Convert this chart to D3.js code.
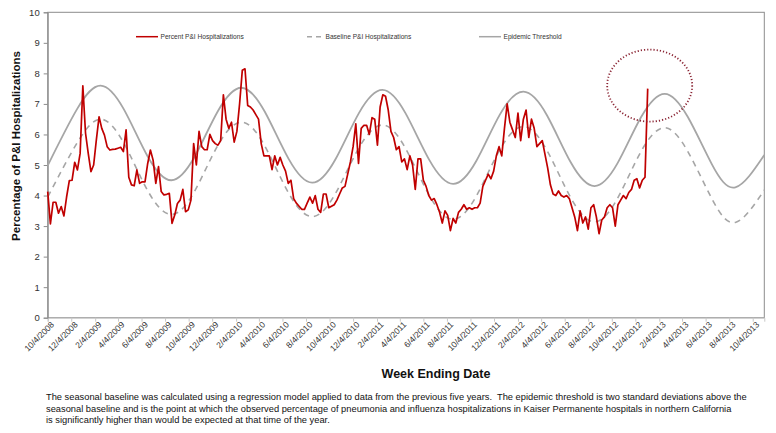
<!DOCTYPE html>
<html>
<head>
<meta charset="utf-8">
<script src="https://cdn.jsdelivr.net/npm/d3@7"></script>
<style>
  body { margin: 0; background: #fff; }
  svg { font-family: Arial, "Liberation Sans", sans-serif; }
</style>
</head>
<body>
<svg id="chart" width="776" height="433"></svg>
<script>
// weekly percent of P&I hospitalizations, weeks ending 10/4/2008 .. 1/5/2013
const firstWeek = "10/4/2008";
const percentPI = [
  4.13, 3.07, 3.78, 3.78, 3.42, 3.64, 3.33, 3.96, 4.49, 4.5,
  5.09, 4.84, 5.38, 7.59, 6.04, 5.38, 4.78, 5.0, 5.82, 6.58,
  6.2, 5.98, 5.6, 5.49, 5.51, 5.52, 5.55, 5.58, 5.44, 6.15,
  4.6, 4.35, 4.32, 4.84, 4.4, 4.45, 4.45, 5.05, 5.49, 5.16,
  4.4, 4.95, 4.13, 4.02, 4.04, 4.07, 3.09, 3.36, 3.74, 3.85,
  4.2, 3.47, 3.53, 3.85, 5.7, 5.0, 6.1, 5.6, 5.5, 5.5,
  6.0, 5.8, 5.7, 5.65, 5.8, 7.3, 6.5, 6.2, 6.4, 5.75,
  6.1, 7.0, 8.1, 8.15, 6.95, 6.9, 6.8, 6.65, 6.5, 5.7,
  5.3, 5.3, 5.3, 4.85, 5.3, 5.0, 5.25, 5.0, 4.8, 4.4,
  4.5, 3.9, 3.75, 3.65, 3.55, 3.55, 3.75, 3.95, 3.75, 4.0,
  3.55, 3.45, 4.05, 4.05, 3.6, 3.65, 3.7, 3.85, 4.05, 4.25,
  4.3, 4.7, 5.1, 5.6, 6.35, 5.05, 6.2, 6.3, 6.3, 6.0,
  6.55, 6.5, 5.65, 6.9,
  7.3, 7.25, 6.8, 6.1, 5.9, 5.5, 5.6, 5.1, 5.2, 4.85,
  5.3, 5.0, 4.2, 5.2, 5.2, 4.5, 4.3, 4.0, 3.85, 3.9,
  3.7, 3.45, 3.1, 3.5, 3.35, 2.85, 3.25, 3.1, 3.45, 3.55,
  3.7, 3.55, 3.6, 3.55, 3.6, 3.6, 3.75, 4.3, 4.5, 4.7,
  4.55, 4.8, 5.3, 5.6, 5.3, 6.2, 7.0, 6.4, 6.15, 5.9,
  6.7, 5.8, 6.5, 6.8, 5.9, 6.5, 6.2, 5.6, 5.7, 5.8,
  5.35, 4.9, 4.35, 4.05, 4.0, 4.15, 4.0, 3.95, 4.0, 3.9,
  3.6, 3.3, 2.85, 3.5, 3.1, 3.3, 2.9, 3.6, 3.7, 3.3,
  2.75, 3.2, 3.3, 3.6, 3.7, 3.6, 3.0, 3.7, 3.85, 4.0,
  3.9, 4.1, 4.2, 4.5, 4.55, 4.25, 4.5, 4.6, 7.5
];

// seasonal curves, read at peaks, troughs and between
const curveDates = [
  "10/4/2008", "12/19/2008", "2/18/2009", "4/19/2009", "6/20/2009", "8/20/2009",
  "10/19/2009", "12/19/2009", "2/18/2010", "4/19/2010", "6/20/2010", "8/20/2010",
  "10/19/2010", "12/19/2010", "2/18/2011", "4/19/2011", "6/20/2011", "8/20/2011",
  "10/19/2011", "12/19/2011", "2/18/2012", "4/19/2012", "6/20/2012", "8/20/2012",
  "10/19/2012", "12/19/2012", "2/18/2013", "4/19/2013", "6/20/2013", "8/20/2013",
  "11/3/2013"
];
const baseline = [
  3.95, 5.72, 6.5, 5.72, 4.16, 3.38,
  4.13, 5.65, 6.4, 5.63, 4.08, 3.31,
  4.06, 5.56, 6.31, 5.54, 3.99, 3.22,
  3.98, 5.5, 6.26, 5.48, 3.92, 3.14,
  3.91, 5.45, 6.22, 5.44, 3.9, 3.12,
  4.18
];
const threshold = [
  4.98, 6.83, 7.6, 6.83, 5.28, 4.5,
  5.26, 6.77, 7.53, 6.75, 5.2, 4.42,
  5.18, 6.7, 7.46, 6.69, 5.15, 4.38,
  5.13, 6.65, 7.4, 6.63, 5.08, 4.31,
  5.06, 6.57, 7.33, 6.57, 5.03, 4.27,
  5.33
];

const tickLabels = [
  "10/4/2008", "12/4/2008", "2/4/2009", "4/4/2009", "6/4/2009", "8/4/2009",
  "10/4/2009", "12/4/2009", "2/4/2010", "4/4/2010", "6/4/2010", "8/4/2010",
  "10/4/2010", "12/4/2010", "2/4/2011", "4/4/2011", "6/4/2011", "8/4/2011",
  "10/4/2011", "12/4/2011", "2/4/2012", "4/4/2012", "6/4/2012", "8/4/2012",
  "10/4/2012", "12/4/2012", "2/4/2013", "4/4/2013", "6/4/2013", "8/4/2013",
  "10/4/2013"
];
const yTicks = [0, 1, 2, 3, 4, 5, 6, 7, 8, 9, 10];

const parse = d3.timeParse("%m/%d/%Y");
const fmt = d3.timeFormat("%-m/%-d/%Y");

const svg = d3.select("#chart");
const pLeft = 47.7, pRight = 764.3, pTop = 12.3, pBottom = 317.7;

const x = d3.scaleTime()
  .domain([parse("10/4/2008"), parse("11/3/2013")])
  .range([pLeft, pRight]);
const y = d3.scaleLinear().domain([0, 10]).range([pBottom, pTop]);

// plot frame
svg.append("rect")
  .attr("x", pLeft).attr("y", pTop)
  .attr("width", pRight - pLeft).attr("height", pBottom - pTop)
  .attr("fill", "none").attr("stroke", "#8c8c8c").attr("stroke-width", 1);

// x axis
const xAxis = svg.append("g")
  .attr("transform", `translate(0,${pBottom})`)
  .call(d3.axisBottom(x).tickValues(tickLabels.map(parse)).tickFormat(fmt).tickSizeOuter(0).tickSize(4));
xAxis.select(".domain").attr("stroke", "#c8c8c8");
xAxis.selectAll(".tick line").attr("stroke", "#c8c8c8");
xAxis.selectAll(".tick text")
  .attr("font-size", 8.5)
  .attr("fill", "#333")
  .attr("text-anchor", "end")
  .attr("transform", "translate(3,4) rotate(-45)")
  .attr("dy", "0.35em")
  .attr("y", 2).attr("x", 0);

// y axis
const yAxis = svg.append("g")
  .attr("transform", `translate(${pLeft},0)`)
  .call(d3.axisLeft(y).tickValues(yTicks).tickSizeOuter(0).tickSize(4).tickPadding(4));
yAxis.select(".domain").attr("stroke", "#8c8c8c");
yAxis.selectAll(".tick line").attr("stroke", "#8c8c8c");
yAxis.selectAll(".tick text").attr("font-size", 9.5).attr("fill", "#333");

// series
const weeks = percentPI.map((v, i) => ({ date: d3.timeDay.offset(parse(firstWeek), 7 * i), value: v }));
const seasonal = (vals) => curveDates.map((d, i) => ({ date: parse(d), value: vals[i] }));

const smooth = d3.line().x(d => x(d.date)).y(d => y(d.value)).curve(d3.curveNatural);
const jagged = d3.line().x(d => x(d.date)).y(d => y(d.value));

svg.append("path")
  .datum(seasonal(threshold))
  .attr("d", smooth)
  .attr("fill", "none").attr("stroke", "#a6a6a6").attr("stroke-width", 1.8);

svg.append("path")
  .datum(seasonal(baseline))
  .attr("d", smooth)
  .attr("fill", "none").attr("stroke", "#a6a6a6").attr("stroke-width", 1.6)
  .attr("stroke-dasharray", "6,5");

svg.append("path")
  .datum(weeks)
  .attr("d", jagged)
  .attr("fill", "none").attr("stroke", "#c00000").attr("stroke-width", 1.7)
  .attr("stroke-linejoin", "round");

// dotted ring around the latest spike
const last = weeks[weeks.length - 1];
svg.append("ellipse")
  .attr("cx", x(last.date) + 2).attr("cy", y(7.6))
  .attr("rx", 42.5).attr("ry", 36)
  .attr("fill", "none").attr("stroke", "#8b2635").attr("stroke-width", 1.8)
  .attr("stroke-dasharray", "1.2,2");

// legend
const legend = [
  { label: "Percent P&I Hospitalizations", x0: 136, x1: 158, color: "#c00000", dash: null },
  { label: "Baseline P&I Hospitalizations", x0: 307, x1: 323, color: "#a6a6a6", dash: "5,4" },
  { label: "Epidemic Threshold", x0: 479, x1: 501, color: "#a6a6a6", dash: null }
];
const lg = svg.append("g").attr("transform", "translate(0,36.7)");
legend.forEach(d => {
  lg.append("line")
    .attr("x1", d.x0).attr("x2", d.x1)
    .attr("stroke", d.color).attr("stroke-width", 1.5)
    .attr("stroke-dasharray", d.dash);
  lg.append("text")
    .attr("x", d.x1 + 2.5).attr("dy", "0.35em")
    .attr("font-size", 6.6).attr("fill", "#333")
    .text(d.label);
});

// titles
svg.append("text")
  .attr("transform", "translate(20,146) rotate(-90)")
  .attr("text-anchor", "middle")
  .attr("font-size", 11.5).attr("font-weight", "bold").attr("fill", "#111")
  .text("Percentage of P&I Hospitalizations");

svg.append("text")
  .attr("x", 436).attr("y", 378)
  .attr("text-anchor", "middle")
  .attr("font-size", 12.5).attr("font-weight", "bold").attr("fill", "#111")
  .text("Week Ending Date");

const note = [
  "The seasonal baseline was calculated using a regression model applied to data from the previous five years.  The epidemic threshold is two standard deviations above the",
  "seasonal baseline and is the point at which the observed percentage of pneumonia and influenza hospitalizations in Kaiser Permanente hospitals in northern California",
  "is significantly higher than would be expected at that time of the year."
];
svg.append("text")
  .attr("font-size", 9.3).attr("fill", "#111")
  .style("white-space", "pre")
  .selectAll("tspan")
  .data(note)
  .join("tspan")
  .attr("x", 46)
  .attr("y", (d, i) => 400 + i * 11.5)
  .text(d => d);
</script>
</body>
</html>
